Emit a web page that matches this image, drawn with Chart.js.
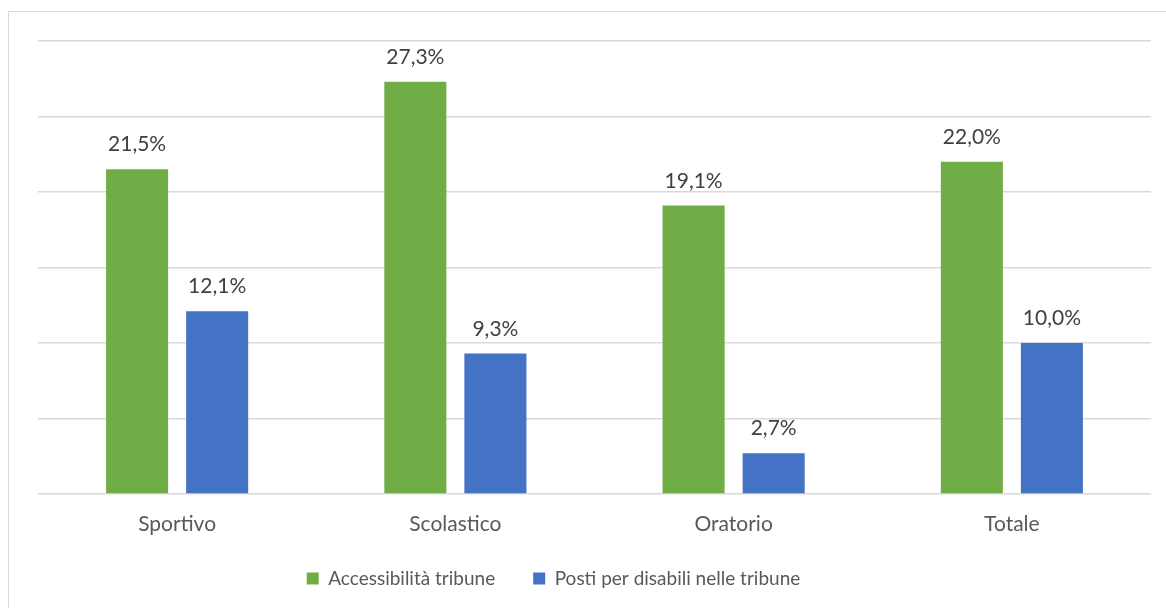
<!DOCTYPE html>
<html>
<head>
<meta charset="utf-8">
<script src="https://cdn.jsdelivr.net/npm/chart.js@4/dist/chart.umd.min.js"></script>
<style>
  html, body { margin: 0; padding: 0; background: #fff; }
  #wrap { position: relative; width: 1166px; height: 608px; overflow: hidden; }
  #frame { position: absolute; left: 8px; top: 11px; width: 1200px; height: 700px; border: 1.5px solid #d9d9d9; }
  canvas { position: absolute; left: 0; top: 0; }
</style>
</head>
<body>
<div id="wrap">
  <div id="frame"></div>
  <canvas id="chart" width="1166" height="608"></canvas>
</div>
<script>
// setup the data
const categories = ['Sportivo', 'Scolastico', 'Oratorio', 'Totale'];
const accessibilita = [21.5, 27.3, 19.1, 22.0];
const postiDisabili = [12.1, 9.3, 2.7, 10.0];
const seriesNames = ['Accessibilità tribune', 'Posti per disabili nelle tribune'];

const fontFamily = 'Lato, "Open Sans", sans-serif';

// labels above bars, like excel
const barLabels = {
    id: 'barLabels',
    afterLayout(chart) {
        // excel puts the legend a bit left of centre and higher
        const lg = chart.legend;
        lg.left -= 41;
        lg.right -= 41;
        lg.top -= 8;
        lg.bottom -= 8;
    },
    afterDatasetsDraw(chart) {
        const ctx = chart.ctx;
        ctx.save();
        ctx.font = '21px ' + fontFamily;
        ctx.fillStyle = '#404040';
        ctx.textAlign = 'center';
        ctx.textBaseline = 'alphabetic';
        chart.data.datasets.forEach((ds, i) => {
            chart.getDatasetMeta(i).data.forEach((bar, j) => {
                const txt = ds.data[j].toFixed(1).replace('.', ',') + '%';
                ctx.fillText(txt, bar.x, bar.y - 18);
            });
        });
        ctx.restore();
    }
};

const data = {
    labels: categories,
    datasets: [{
        label: seriesNames[0],
        data: accessibilita,
        backgroundColor: '#70AD47'
    }, {
        label: seriesNames[1],
        data: postiDisabili,
        backgroundColor: '#4472C4'
    }]
};

const config = {
    type: 'bar',
    data: data,
    options: {
        responsive: false,
        animation: false,
        devicePixelRatio: 1,
        categoryPercentage: 0.5755,
        barPercentage: 0.775,
        layout: {
            padding: { left: 38, right: 15, top: 41, bottom: 2 }
        },
        scales: {
            x: {
                grid: { display: false },
                border: { display: false },
                ticks: {
                    color: '#595959',
                    font: { family: fontFamily, size: 21 },
                    padding: 10
                },
                afterFit(scale) { scale.height = 45; }
            },
            y: {
                min: 0,
                max: 30,
                ticks: { display: false, stepSize: 5 },
                grid: { color: '#d9d9d9', lineWidth: 1.5, drawTicks: false },
                border: { display: false },
                afterFit(scale) { scale.width = 0; }
            }
        },
        plugins: {
            legend: {
                position: 'bottom',
                labels: {
                    color: '#595959',
                    font: { family: fontFamily, size: 19 },
                    boxWidth: 12,
                    boxHeight: 12,
                    padding: 38
                }
            },
            tooltip: { enabled: false }
        }
    },
    plugins: [barLabels]
};

const chartTribune = new Chart(
    document.getElementById('chart'),
    config
);
</script>
</body>
</html>
